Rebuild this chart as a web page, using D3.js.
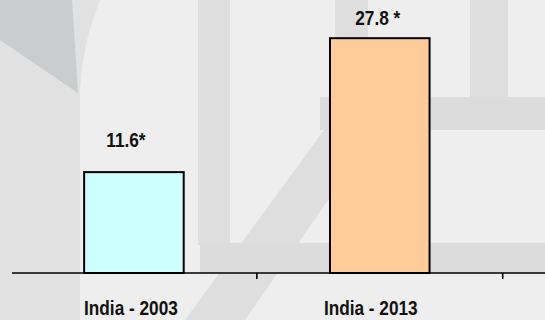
<!DOCTYPE html>
<html>
<head>
<meta charset="utf-8">
<script src="https://cdn.jsdelivr.net/npm/d3@7"></script>
<style>
  html, body { margin: 0; padding: 0; background: #eeeeee; }
  svg { display: block; }
  text { font-family: 'Liberation Sans', Arial, sans-serif; font-weight: bold; fill: #111; }
</style>
</head>
<body>
<svg id="chart" width="545" height="320"></svg>
<script>
const categories = ["India - 2003", "India - 2013"];
const values = [11.6, 27.8];
const valueLabels = ["11.6*", "27.8 *"];
const barColors = ["#ccffff", "#ffcc99"];

const W = 545, H = 320;
const NARROW = 0.82;
const svg = d3.select("#chart");

// background + faint watermark shapes
const bg = svg.append("g");
bg.append("rect").attr("width", W).attr("height", H).attr("fill", "#eeeeee");
bg.append("path").attr("d", "M0,0 L100,0 Q78,55 80,110 L80,320 L0,320 Z").attr("fill", "#e1e1e1");
bg.append("path").attr("d", "M0,0 L72,0 L78,93 L0,40 Z").attr("fill", "#cacccd");
bg.append("rect").attr("x", 198).attr("y", 0).attr("width", 32).attr("height", 245).attr("fill", "#dedede");
bg.append("path").attr("d", "M185,320 L245,320 L335,190 L335,115 Z").attr("fill", "#dedede");
bg.append("rect").attr("x", 200).attr("y", 243).attr("width", 345).attr("height", 30).attr("fill", "#dcdcdc");
bg.append("rect").attr("x", 335).attr("y", 0).attr("width", 33).attr("height", 100).attr("fill", "#dedede");
bg.append("rect").attr("x", 320).attr("y", 97).attr("width", 225).attr("height", 33).attr("fill", "#dcdcdc");
bg.append("rect").attr("x", 470).attr("y", 0).attr("width", 38).attr("height", 97).attr("fill", "#dedede");

// scales
const x = d3.scaleBand().domain(categories).range([11, 502.7]).paddingInner(0).paddingOuter(0);
const y = d3.scaleLinear().domain([-0.6, 30]).range([273, 20]);
const step = x.step();
const barW = step * 0.405;
const barOff = (step - barW) / 2;

// bars
svg.append("g").selectAll("rect").data(values).join("rect")
  .attr("x", (d, i) => x(categories[i]) + barOff)
  .attr("y", d => y(d))
  .attr("width", barW)
  .attr("height", d => y(y.domain()[0]) - y(d))
  .attr("fill", (d, i) => barColors[i])
  .attr("stroke", "#000")
  .attr("stroke-width", 2);

// x axis
const y0 = y(y.domain()[0]);
const axisG = svg.append("g").attr("transform", `translate(0,${y0})`);
axisG.append("line").attr("x1", 12).attr("x2", W).attr("stroke", "#000").attr("stroke-width", 1.6);
axisG.selectAll("line.tick").data(categories).join("line").attr("class", "tick")
  .attr("x1", d => x(d) + step).attr("x2", d => x(d) + step)
  .attr("y1", 0).attr("y2", 6).attr("stroke", "#000").attr("stroke-width", 1.6);

axisG.selectAll("text").data(categories).join("text")
  .attr("transform", (d, i) => `translate(${x(d) + step / 2 + (i === 0 ? -3 : -9)},42) scale(${NARROW},1)`)
  .attr("text-anchor", "middle")
  .attr("font-size", 21)
  .text(d => d);

// value labels (kept inside the top of the plot)
svg.append("g").selectAll("text").data(values).join("text")
  .attr("transform", (d, i) => `translate(${x(categories[i]) + step / 2 + (i === 0 ? -8 : -2)},${Math.max(y(d) - 25.5, 24.5)}) scale(${NARROW},1)`)
  .attr("text-anchor", "middle")
  .attr("font-size", 21)
  .text((d, i) => valueLabels[i]);
</script>
</body>
</html>
